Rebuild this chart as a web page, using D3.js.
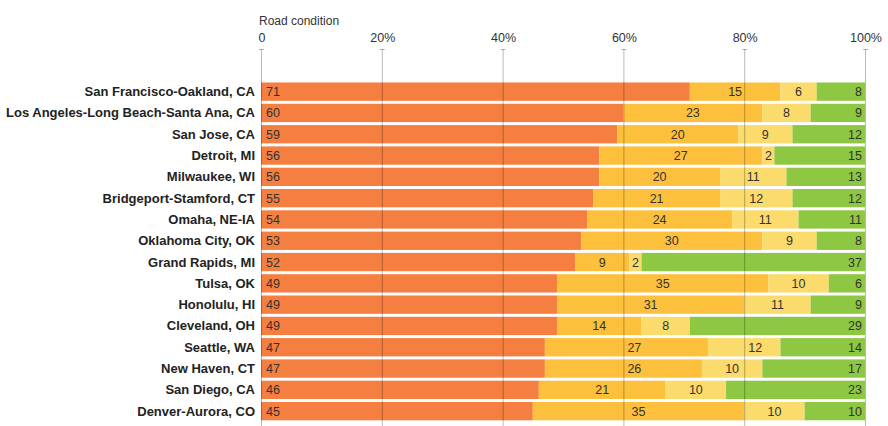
<!DOCTYPE html>
<html>
<head>
<meta charset="utf-8">
<script src="https://cdn.jsdelivr.net/npm/d3@7"></script>
<style>
  body { margin: 0; background: #fff; }
  svg { display: block; font-family: "Liberation Sans", Arial, Helvetica, sans-serif; }
</style>
</head>
<body>
<div id="chart"></div>
<script>
// data (shares in %)
const cities = [
  "San Francisco-Oakland, CA", "Los Angeles-Long Beach-Santa Ana, CA", "San Jose, CA",
  "Detroit, MI", "Milwaukee, WI", "Bridgeport-Stamford, CT", "Omaha, NE-IA",
  "Oklahoma City, OK", "Grand Rapids, MI", "Tulsa, OK", "Honolulu, HI", "Cleveland, OH",
  "Seattle, WA", "New Haven, CT", "San Diego, CA", "Denver-Aurora, CO"
]
const poor     = [71, 60, 59, 56, 56, 55, 54, 53, 52, 49, 49, 49, 47, 47, 46, 45]
const mediocre = [15, 23, 20, 27, 20, 21, 24, 30,  9, 35, 31, 14, 27, 26, 21, 35]
const fair     = [ 6,  8,  9,  2, 11, 12, 11,  9,  2, 10, 11,  8, 12, 10, 10, 10]
const good     = [ 8,  9, 12, 15, 13, 12, 11,  8, 37,  6,  9, 29, 14, 17, 23, 10]
const tickValues = [0, 20, 40, 60, 80, 100]
const tickLabels = ["0", "20%", "40%", "60%", "80%", "100%"]
const axisTitle = "Road condition"

const keys = ["poor", "mediocre", "fair", "good"]
const colors = { poor: "#f47f40", mediocre: "#fdc03c", fair: "#fbdb6b", good: "#8ec742" }

const rows = cities.map((c, i) => ({
  city: c, poor: poor[i], mediocre: mediocre[i], fair: fair[i], good: good[i]
}))

const width = 888, height = 426

let svg = d3.select("#chart").append("svg")
  .attr("width", width)
  .attr("height", height)

// scales
let x = d3.scaleLinear().domain([0, 100]).range([261, 865])
let y = d3.scaleBand()
  .domain(cities)
  .range([81, 81 + 16 * 21.3])
  .paddingInner(0.14)
  .paddingOuter(0.07)

const stack = d3.stack().keys(keys)(rows)

// bars
svg.append("g")
  .selectAll("g")
  .data(stack)
  .join("g")
  .attr("fill", d => colors[d.key])
  .selectAll("rect")
  .data(d => d)
  .join("rect")
  .attr("x", d => x(d[0]))
  .attr("y", d => y(d.data.city))
  .attr("width", d => x(d[1]) - x(d[0]))
  .attr("height", y.bandwidth())

// gridlines over the bars
let axis = svg.append("g")
axis.selectAll("line.grid")
  .data(tickValues)
  .join("line")
  .attr("class", "grid")
  .attr("x1", d => x(d) + 0.5).attr("x2", d => x(d) + 0.5)
  .attr("y1", 49).attr("y2", height)
  .attr("stroke", "#000")
  .attr("stroke-opacity", 0.27)
axis.selectAll("line.cap")
  .data(tickValues)
  .join("line")
  .attr("class", "cap")
  .attr("x1", d => x(d) - 2).attr("x2", d => x(d) + 3)
  .attr("y1", 49.5).attr("y2", 49.5)
  .attr("stroke", "#000")
  .attr("stroke-opacity", 0.27)
axis.selectAll("text")
  .data(tickValues)
  .join("text")
  .attr("x", d => x(d) + 1)
  .attr("y", 42)
  .attr("text-anchor", "middle")
  .attr("font-size", 12.5)
  .attr("fill", "#333")
  .text((d, i) => tickLabels[i])

svg.append("text")
  .attr("x", x(0) - 2)
  .attr("y", 25)
  .attr("font-size", 12)
  .attr("fill", "#333")
  .text(axisTitle)

// city names
svg.append("g")
  .selectAll("text")
  .data(cities)
  .join("text")
  .attr("x", 255)
  .attr("y", d => y(d) + y.bandwidth() / 2 + 4.5)
  .attr("text-anchor", "end")
  .attr("font-size", 13)
  .attr("font-weight", "bold")
  .attr("fill", "#222")
  .text(d => d)

// value labels
let labels = svg.append("g")
  .attr("font-size", 12.5)
  .attr("fill", "#333")

stack.forEach(layer => {
  layer.forEach(d => {
    let v = d[1] - d[0]
    let t = labels.append("text")
      .attr("y", y(d.data.city) + y.bandwidth() / 2 + 4.5)
      .text(v)
    if (layer.key === "poor") {
      t.attr("x", x(d[0]) + 5)
    } else if (layer.key === "good") {
      t.attr("x", x(d[1]) - 3).attr("text-anchor", "end")
    } else {
      let w = t.node().getComputedTextLength()
      let cx = (x(d[0]) + x(d[1])) / 2
      // keep the number clear of the gridlines
      let hit = tickValues.map(x).find(g => g > cx - w / 2 && g < cx + w / 2)
      if (hit !== undefined) {
        t.attr("x", hit + 4)
      } else {
        t.attr("x", cx).attr("text-anchor", "middle")
      }
    }
  })
})
</script>
</body>
</html>
